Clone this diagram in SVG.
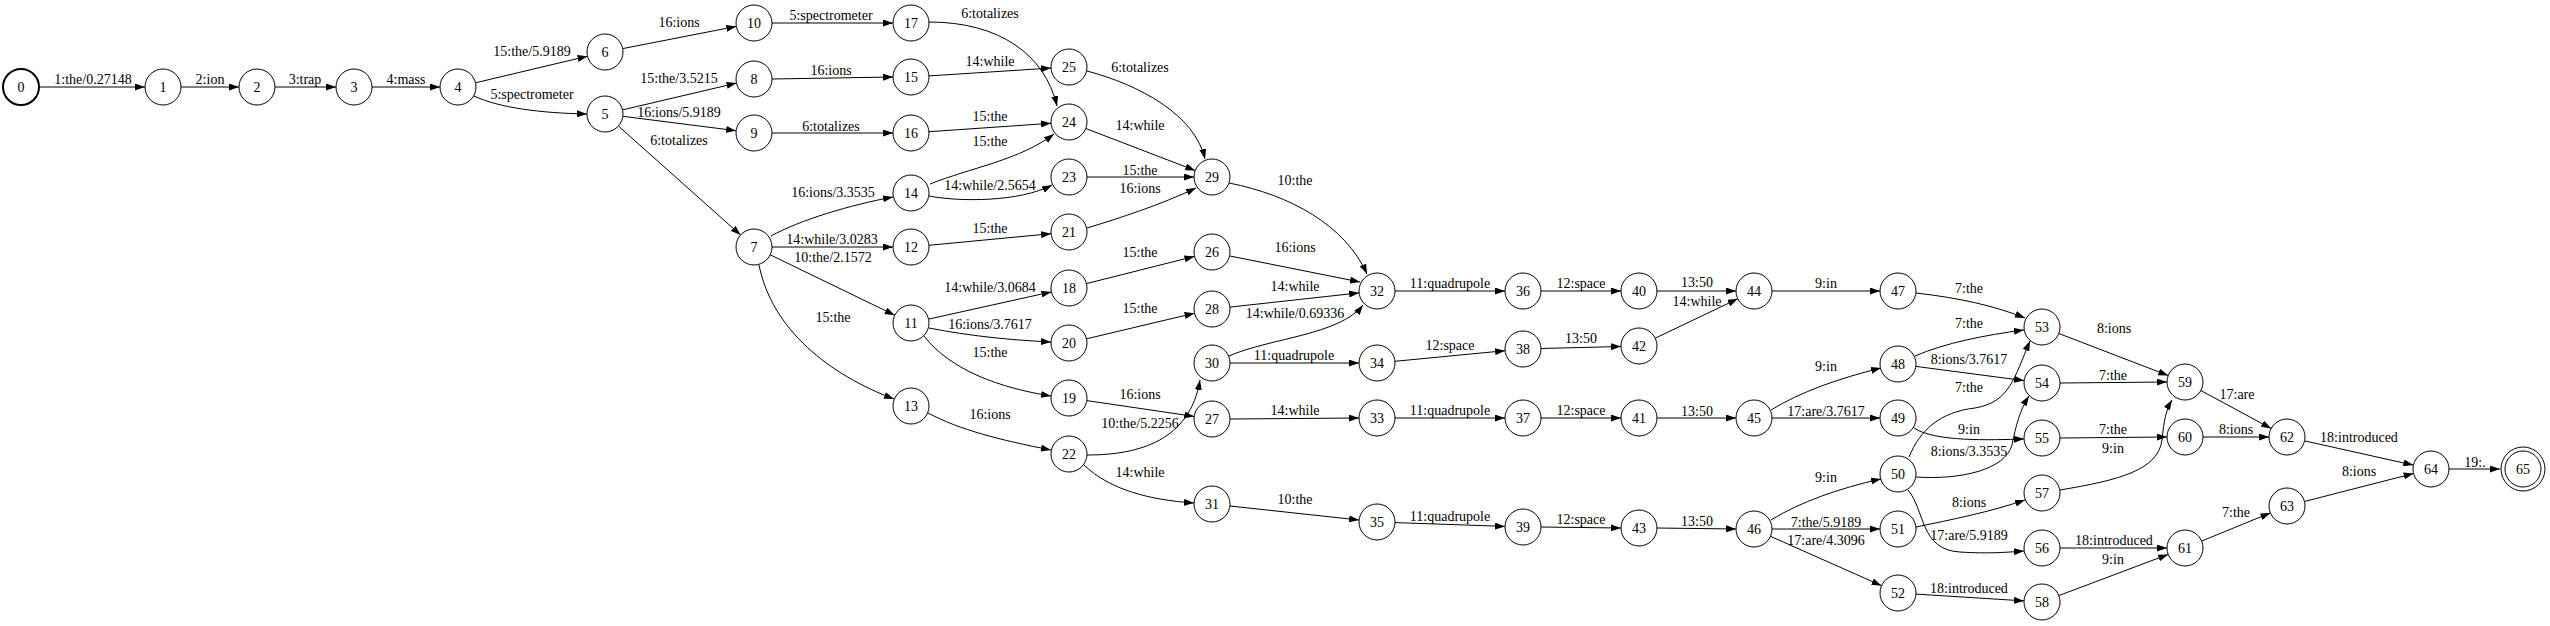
<svg xmlns="http://www.w3.org/2000/svg" width="2550" height="626" viewBox="0 0 2550 626">
<style>
.n circle{fill:#fff;stroke:#000;stroke-width:1}
text{font-family:"Liberation Serif","Times New Roman",serif;font-size:14px;fill:#000;text-anchor:middle}
.e path{fill:none;stroke:#000;stroke-width:1;marker-end:url(#a)}
.e text{transform:translate(0px,-1.5px)}
</style>
<defs>
<marker id="a" markerWidth="10" markerHeight="7" refX="10" refY="3.5" orient="auto" markerUnits="userSpaceOnUse"><path d="M0,0 L10,3.5 L0,7 z" fill="#000"/></marker>
</defs>
<rect width="2550" height="626" fill="#fff"/>
<g id="edges" class="e">
<g><path d="M39,87 L145,87"/><text x="93" y="85">1:the/0.27148</text></g>
<g><path d="M181,87 L239,87"/><text x="210" y="85">2:ion</text></g>
<g><path d="M275,87 L336,87"/><text x="305" y="85">3:trap</text></g>
<g><path d="M372,87 L440,87"/><text x="406" y="85">4:mass</text></g>
<g><path d="M475.5,82.8 L587.5,56.2"/><text x="532" y="57">15:the/5.9189</text></g>
<g><path d="M474,96 C500,108 540,113 587,114"/><text x="532" y="100">5:spectrometer</text></g>
<g><path d="M622.7,48.6 L736.3,26.4"/><text x="679" y="28">16:ions</text></g>
<g><path d="M622.5,109.9 L736.5,83.1"/><text x="679" y="84">15:the/3.5215</text></g>
<g><path d="M622.9,116.3 L736.1,130.7"/><text x="679" y="118">16:ions/5.9189</text></g>
<g><path d="M618.4,126 L740.6,235"/><text x="679" y="146">6:totalizes</text></g>
<g><path d="M772,23 L893,23"/><text x="831" y="21">5:spectrometer</text></g>
<g><path d="M772,79 L893,77"/><text x="831" y="76">16:ions</text></g>
<g><path d="M772,133 L893,133"/><text x="831" y="132">6:totalizes</text></g>
<g><path d="M771,236 C800,220 850,205 893,197"/><text x="833" y="198">16:ions/3.3535</text></g>
<g><path d="M772,247 L893,247"/><text x="832" y="245">14:while/3.0283</text></g>
<g><path d="M770.2,254.8 L894.8,315.2"/><text x="833" y="263">10:the/2.1572</text></g>
<g><path d="M759,265 C772,330 830,375 894,399"/><text x="833" y="323">15:the</text></g>
<g><path d="M929,22 C1000,22 1045,55 1057,106"/><text x="990" y="19">6:totalizes</text></g>
<g><path d="M929,75.9 L1051,68.1"/><text x="990" y="67">14:while</text></g>
<g><path d="M929,131.7 L1051,123.3"/><text x="990" y="122">15:the</text></g>
<g><path d="M930,184 C970,168 1020,160 1054,134"/><text x="990" y="147">15:the</text></g>
<g><path d="M929,196 C960,202 1020,202 1052,185"/><text x="990" y="191">14:while/2.5654</text></g>
<g><path d="M928.9,245.3 L1051.1,233.7"/><text x="990" y="234">15:the</text></g>
<g><path d="M928.6,319.1 L1051.4,291.9"/><text x="990" y="293">14:while/3.0684</text></g>
<g><path d="M929,328 C970,336 1010,340 1051,342"/><text x="990" y="330">16:ions/3.7617</text></g>
<g><path d="M924,336 C950,370 1000,388 1051,396"/><text x="990" y="358">15:the</text></g>
<g><path d="M928,413 C960,430 1000,440 1051,450"/><text x="990" y="420">16:ions</text></g>
<g><path d="M1087,71 C1140,85 1195,115 1205,159"/><text x="1140" y="73">6:totalizes</text></g>
<g><path d="M1085.8,128.5 L1195.2,170.5"/><text x="1140" y="131">14:while</text></g>
<g><path d="M1087,177 L1194,177"/><text x="1140" y="176">15:the</text></g>
<g><path d="M1087,228 C1120,218 1160,205 1196,188"/><text x="1140" y="194">16:ions</text></g>
<g><path d="M1086.5,283.6 L1194.5,256.4"/><text x="1140" y="258">15:the</text></g>
<g><path d="M1086.5,338.8 L1194.5,313.2"/><text x="1140" y="314">15:the</text></g>
<g><path d="M1086.8,400.6 L1194.2,416.4"/><text x="1140" y="400">16:ions</text></g>
<g><path d="M1087,455 C1140,455 1190,440 1200,380"/><text x="1140" y="429">10:the/5.2256</text></g>
<g><path d="M1084,465 C1110,490 1150,500 1194,503"/><text x="1140" y="478">14:while</text></g>
<g><path d="M1229,183 C1290,195 1345,225 1367,274"/><text x="1295" y="186">10:the</text></g>
<g><path d="M1230,256 L1360,282"/><text x="1295" y="253">16:ions</text></g>
<g><path d="M1229.9,307.1 L1359.1,292.9"/><text x="1295" y="292">14:while</text></g>
<g><path d="M1229,356 C1270,338 1340,335 1363,305"/><text x="1295" y="319">14:while/0.69336</text></g>
<g><path d="M1230,363 L1359,363"/><text x="1294" y="361">11:quadrupole</text></g>
<g><path d="M1230,419 L1359,418"/><text x="1295" y="416">14:while</text></g>
<g><path d="M1229.9,506 L1359.1,520"/><text x="1295" y="505">10:the</text></g>
<g><path d="M1395,291 L1505,291"/><text x="1450" y="289">11:quadrupole</text></g>
<g><path d="M1394.9,361.3 L1505.1,350.7"/><text x="1450" y="351">12:space</text></g>
<g><path d="M1395,418 L1505,418"/><text x="1450" y="416">11:quadrupole</text></g>
<g><path d="M1395,522.6 L1505,526.4"/><text x="1450" y="522">11:quadrupole</text></g>
<g><path d="M1541,291 L1621,291"/><text x="1581" y="289">12:space</text></g>
<g><path d="M1541,348.5 L1621,346.5"/><text x="1581" y="344">13:50</text></g>
<g><path d="M1541,418 L1621,418"/><text x="1581" y="416">12:space</text></g>
<g><path d="M1541,527 L1621,528"/><text x="1581" y="525">12:space</text></g>
<g><path d="M1657,291 L1736,291"/><text x="1697" y="288">13:50</text></g>
<g><path d="M1655.2,338.2 L1737.8,298.8"/><text x="1697" y="307">14:while</text></g>
<g><path d="M1657,418 L1736,418"/><text x="1697" y="417">13:50</text></g>
<g><path d="M1657,528 L1736,529"/><text x="1697" y="527">13:50</text></g>
<g><path d="M1772,291 L1880,291"/><text x="1826" y="289">9:in</text></g>
<g><path d="M1771,410 C1800,392 1840,378 1881,368"/><text x="1826" y="372">9:in</text></g>
<g><path d="M1772,418 L1880,418"/><text x="1826" y="417">17:are/3.7617</text></g>
<g><path d="M1771,520 C1800,502 1840,488 1881,479"/><text x="1826" y="483">9:in</text></g>
<g><path d="M1772,529 L1880,529"/><text x="1826" y="528">7:the/5.9189</text></g>
<g><path d="M1770.4,536.3 L1881.6,585.7"/><text x="1826" y="546">17:are/4.3096</text></g>
<g><path d="M1916,293 C1960,298 1995,306 2025,318"/><text x="1969" y="294">7:the</text></g>
<g><path d="M1915,356 C1945,343 1985,335 2024,330"/><text x="1969" y="329">7:the</text></g>
<g><path d="M1915.9,366.4 L2024.1,380.6"/><text x="1969" y="365">8:ions/3.7617</text></g>
<g><path d="M1909,457 C1920,430 1940,412 1975,408 C2010,402 2014,378 2030,341"/><text x="1969" y="393">7:the</text></g>
<g><path d="M1914,428 C1935,442 1990,440 2024,439"/><text x="1969" y="435">9:in</text></g>
<g><path d="M1916,477 C1960,480 2005,470 2012,445 C2016,425 2020,410 2029,396"/><text x="1969" y="457">8:ions/3.3535</text></g>
<g><path d="M1916,527 C1950,520 1990,512 2025,500"/><text x="1969" y="508">8:ions</text></g>
<g><path d="M1908,490 C1925,510 1920,550 1960,552 C1990,554 2010,552 2024,551"/><text x="1969" y="541">17:are/5.9189</text></g>
<g><path d="M1916,594.1 L2024,600.9"/><text x="1969" y="594">18:introduced</text></g>
<g><path d="M2058.8,333.5 L2168.2,375.5"/><text x="2114" y="334">8:ions</text></g>
<g><path d="M2060,383 L2167,382"/><text x="2113" y="381">7:the</text></g>
<g><path d="M2060,438 L2167,437"/><text x="2113" y="435">7:the</text></g>
<g><path d="M2060,490 C2120,480 2158,470 2162,440 C2164,420 2166,410 2172,400"/><text x="2113" y="454">9:in</text></g>
<g><path d="M2060,548 L2167,548"/><text x="2114" y="546">18:introduced</text></g>
<g><path d="M2058.8,595.6 L2168.2,554.4"/><text x="2113" y="565">9:in</text></g>
<g><path d="M2200.8,390.5 L2271.2,428.5"/><text x="2237" y="400">17:are</text></g>
<g><path d="M2203,437 L2269,437"/><text x="2236" y="435">8:ions</text></g>
<g><path d="M2201.6,541.1 L2270.4,512.9"/><text x="2236" y="518">7:the</text></g>
<g><path d="M2304.6,440.9 L2413.4,465.1"/><text x="2359" y="443">18:introduced</text></g>
<g><path d="M2304.4,501.5 L2413.6,473.5"/><text x="2359" y="477">8:ions</text></g>
<g><path d="M2449,469 L2500,469"/><text x="2475" y="468">19:.</text></g>
</g>
<g id="nodes" class="n">
<g id="n0"><circle cx="21" cy="87" r="18" style="stroke-width:2"/><text x="21" y="92">0</text></g>
<g id="n1"><circle cx="163" cy="87" r="18"/><text x="163" y="92">1</text></g>
<g id="n2"><circle cx="257" cy="87" r="18"/><text x="257" y="92">2</text></g>
<g id="n3"><circle cx="354" cy="87" r="18"/><text x="354" y="92">3</text></g>
<g id="n4"><circle cx="458" cy="87" r="18"/><text x="458" y="92">4</text></g>
<g id="n5"><circle cx="605" cy="114" r="18"/><text x="605" y="119">5</text></g>
<g id="n6"><circle cx="605" cy="52" r="18"/><text x="605" y="57">6</text></g>
<g id="n7"><circle cx="754" cy="247" r="18"/><text x="754" y="252">7</text></g>
<g id="n8"><circle cx="754" cy="79" r="18"/><text x="754" y="84">8</text></g>
<g id="n9"><circle cx="754" cy="133" r="18"/><text x="754" y="138">9</text></g>
<g id="n10"><circle cx="754" cy="23" r="18"/><text x="754" y="28">10</text></g>
<g id="n11"><circle cx="911" cy="323" r="18"/><text x="911" y="328">11</text></g>
<g id="n12"><circle cx="911" cy="247" r="18"/><text x="911" y="252">12</text></g>
<g id="n13"><circle cx="911" cy="406" r="18"/><text x="911" y="411">13</text></g>
<g id="n14"><circle cx="911" cy="193" r="18"/><text x="911" y="198">14</text></g>
<g id="n15"><circle cx="911" cy="77" r="18"/><text x="911" y="82">15</text></g>
<g id="n16"><circle cx="911" cy="133" r="18"/><text x="911" y="138">16</text></g>
<g id="n17"><circle cx="911" cy="23" r="18"/><text x="911" y="28">17</text></g>
<g id="n18"><circle cx="1069" cy="288" r="18"/><text x="1069" y="293">18</text></g>
<g id="n19"><circle cx="1069" cy="398" r="18"/><text x="1069" y="403">19</text></g>
<g id="n20"><circle cx="1069" cy="343" r="18"/><text x="1069" y="348">20</text></g>
<g id="n21"><circle cx="1069" cy="232" r="18"/><text x="1069" y="237">21</text></g>
<g id="n22"><circle cx="1069" cy="454" r="18"/><text x="1069" y="459">22</text></g>
<g id="n23"><circle cx="1069" cy="177" r="18"/><text x="1069" y="182">23</text></g>
<g id="n24"><circle cx="1069" cy="122" r="18"/><text x="1069" y="127">24</text></g>
<g id="n25"><circle cx="1069" cy="67" r="18"/><text x="1069" y="72">25</text></g>
<g id="n26"><circle cx="1212" cy="252" r="18"/><text x="1212" y="257">26</text></g>
<g id="n27"><circle cx="1212" cy="419" r="18"/><text x="1212" y="424">27</text></g>
<g id="n28"><circle cx="1212" cy="309" r="18"/><text x="1212" y="314">28</text></g>
<g id="n29"><circle cx="1212" cy="177" r="18"/><text x="1212" y="182">29</text></g>
<g id="n30"><circle cx="1212" cy="363" r="18"/><text x="1212" y="368">30</text></g>
<g id="n31"><circle cx="1212" cy="504" r="18"/><text x="1212" y="509">31</text></g>
<g id="n32"><circle cx="1377" cy="291" r="18"/><text x="1377" y="296">32</text></g>
<g id="n33"><circle cx="1377" cy="418" r="18"/><text x="1377" y="423">33</text></g>
<g id="n34"><circle cx="1377" cy="363" r="18"/><text x="1377" y="368">34</text></g>
<g id="n35"><circle cx="1377" cy="522" r="18"/><text x="1377" y="527">35</text></g>
<g id="n36"><circle cx="1523" cy="291" r="18"/><text x="1523" y="296">36</text></g>
<g id="n37"><circle cx="1523" cy="418" r="18"/><text x="1523" y="423">37</text></g>
<g id="n38"><circle cx="1523" cy="349" r="18"/><text x="1523" y="354">38</text></g>
<g id="n39"><circle cx="1523" cy="527" r="18"/><text x="1523" y="532">39</text></g>
<g id="n40"><circle cx="1639" cy="291" r="18"/><text x="1639" y="296">40</text></g>
<g id="n41"><circle cx="1639" cy="418" r="18"/><text x="1639" y="423">41</text></g>
<g id="n42"><circle cx="1639" cy="346" r="18"/><text x="1639" y="351">42</text></g>
<g id="n43"><circle cx="1639" cy="528" r="18"/><text x="1639" y="533">43</text></g>
<g id="n44"><circle cx="1754" cy="291" r="18"/><text x="1754" y="296">44</text></g>
<g id="n45"><circle cx="1754" cy="418" r="18"/><text x="1754" y="423">45</text></g>
<g id="n46"><circle cx="1754" cy="529" r="18"/><text x="1754" y="534">46</text></g>
<g id="n47"><circle cx="1898" cy="291" r="18"/><text x="1898" y="296">47</text></g>
<g id="n48"><circle cx="1898" cy="364" r="18"/><text x="1898" y="369">48</text></g>
<g id="n49"><circle cx="1898" cy="418" r="18"/><text x="1898" y="423">49</text></g>
<g id="n50"><circle cx="1898" cy="474" r="18"/><text x="1898" y="479">50</text></g>
<g id="n51"><circle cx="1898" cy="529" r="18"/><text x="1898" y="534">51</text></g>
<g id="n52"><circle cx="1898" cy="593" r="18"/><text x="1898" y="598">52</text></g>
<g id="n53"><circle cx="2042" cy="327" r="18"/><text x="2042" y="332">53</text></g>
<g id="n54"><circle cx="2042" cy="383" r="18"/><text x="2042" y="388">54</text></g>
<g id="n55"><circle cx="2042" cy="438" r="18"/><text x="2042" y="443">55</text></g>
<g id="n56"><circle cx="2042" cy="548" r="18"/><text x="2042" y="553">56</text></g>
<g id="n57"><circle cx="2042" cy="493" r="18"/><text x="2042" y="498">57</text></g>
<g id="n58"><circle cx="2042" cy="602" r="18"/><text x="2042" y="607">58</text></g>
<g id="n59"><circle cx="2185" cy="382" r="18"/><text x="2185" y="387">59</text></g>
<g id="n60"><circle cx="2185" cy="437" r="18"/><text x="2185" y="442">60</text></g>
<g id="n61"><circle cx="2185" cy="548" r="18"/><text x="2185" y="553">61</text></g>
<g id="n62"><circle cx="2287" cy="437" r="18"/><text x="2287" y="442">62</text></g>
<g id="n63"><circle cx="2287" cy="506" r="18"/><text x="2287" y="511">63</text></g>
<g id="n64"><circle cx="2431" cy="469" r="18"/><text x="2431" y="474">64</text></g>
<g id="n65"><circle cx="2523" cy="469" r="22"/><circle cx="2523" cy="469" r="18"/><text x="2523" y="474">65</text></g>
</g>
</svg>
